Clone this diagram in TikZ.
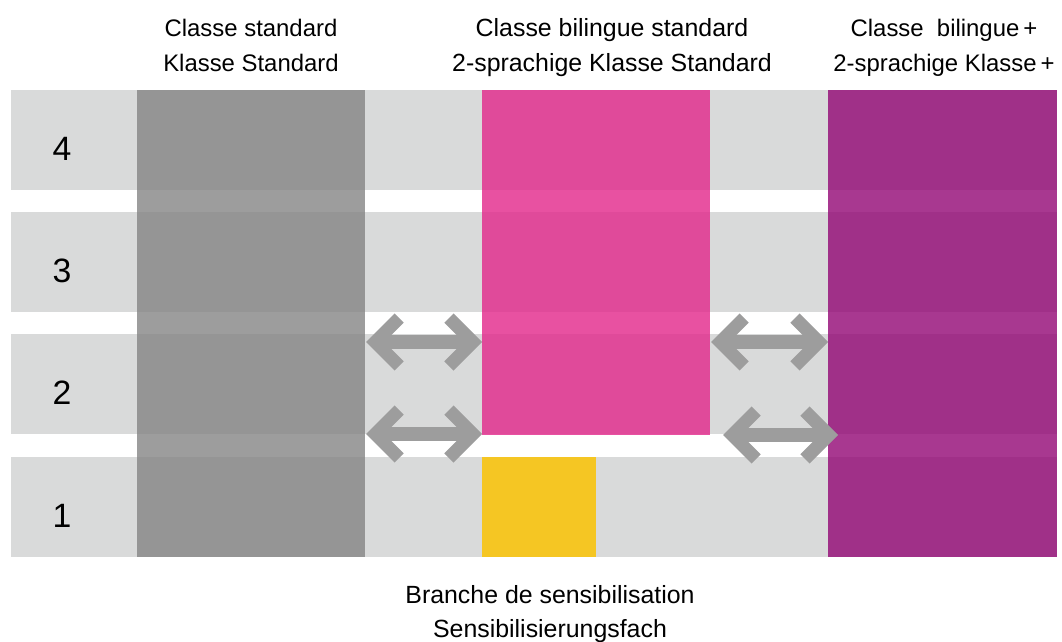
\documentclass[tikz,border=0pt]{standalone}
\usepackage{fontspec}
\setmainfont{Liberation Sans}
\usepackage{xcolor}
\usetikzlibrary{arrows.meta,positioning}
\definecolor{rowgrey}{HTML}{D9DADA}
\definecolor{stdgrey}{RGB}{132,132,132}
\definecolor{bilipink}{RGB}{226,38,138}
\definecolor{pluspurple}{RGB}{146,6,116}
\definecolor{sensiyellow}{HTML}{F5C623}
\definecolor{arrowgrey}{HTML}{9D9D9D}
\tikzset{%
	rowbox/.style    = {fill=rowgrey},
	colbox/.style    = {fill opacity=0.8},
	num/.style       = {font=\fontsize{24}{24}\selectfont, inner sep=0pt},
	header/.style    = {font=\fontsize{17}{25}\selectfont, align=center, anchor=north, inner sep=0pt},
	wideheader/.style= {header, font=\fontsize{17.7}{25}\selectfont},
	footer/.style    = {font=\fontsize{17.7}{24}\selectfont, align=center, anchor=north, inner sep=0pt},
	biarrow/.style   = {draw=arrowgrey, line width=9.25pt, >={Straight Barb[length=17pt,width=34pt]}, <->},
}
\begin{document}
\begin{tikzpicture}[x=0.025cm,y=-0.025cm]
	\useasboundingbox (0,0) rectangle (1062,642);
	\foreach \n/\y in {4/90,3/212,2/334,1/457} {
		\fill[rowbox] (11,\y) rectangle (1057,\y+100);
		\node[num] (n\n) at (62,\y+59) {\n};
	}
	\fill[colbox,stdgrey] (137,90) rectangle (365,557);
	\fill[colbox,bilipink] (482,90) rectangle (710,435);
	\fill[sensiyellow] (482,457) rectangle (596,557);
	\fill[colbox,pluspurple] (828,90) rectangle (1057,557);
	\node[header] (hstd) at (251,19) {Classe standard\\Klasse Standard};
	\node[wideheader] (hbil) at (612,18.5) {Classe bilingue standard\\2-sprachige Klasse Standard};
	\node[header] (hplus) at (944,19) {Classe\ \ bilingue\,+\\2-sprachige Klasse\,+};
	\node[footer] (sensi) at (550,585.5) {Branche de sensibilisation\\Sensibilisierungsfach};
	\coordinate (a1) at (366,342);
	\coordinate (b1) at (482,342);
	\coordinate (a2) at (366,434);
	\coordinate (b2) at (482,434);
	\coordinate (a3) at (711,342);
	\coordinate (b3) at (828,342);
	\coordinate (a4) at (723,435);
	\coordinate (b4) at (838,435);
	\draw[biarrow] (a1) -- (b1);
	\draw[biarrow] (a2) -- (b2);
	\draw[biarrow] (a3) -- (b3);
	\draw[biarrow] (a4) -- (b4);
\end{tikzpicture}
\end{document}
